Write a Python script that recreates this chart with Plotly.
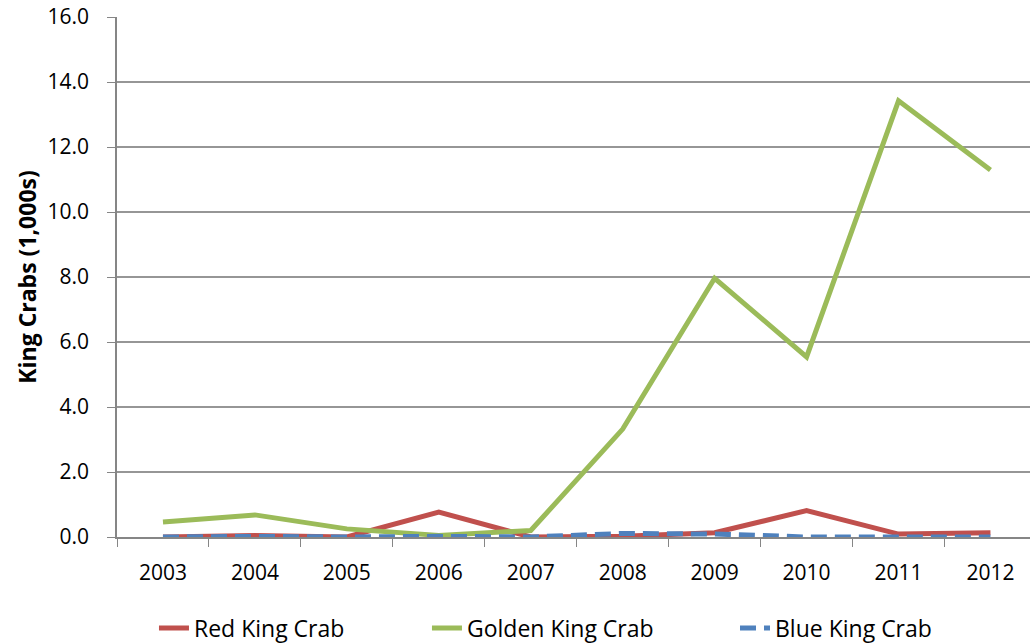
import plotly.graph_objects as go

years = ["2003", "2004", "2005", "2006", "2007", "2008", "2009", "2010", "2011", "2012"]
red_king = [0.0, 0.05, 0.0, 0.77, 0.0, 0.02, 0.13, 0.81, 0.09, 0.13]
golden_king = [0.46, 0.68, 0.25, 0.05, 0.2, 3.32, 7.96, 5.54, 13.42, 11.29]
blue_king = [0.0, 0.02, 0.0, 0.02, 0.0, 0.11, 0.09, 0.0, 0.0, 0.0]
y_ticks = [0, 2, 4, 6, 8, 10, 12, 14, 16]

FONT = "Open Sans"
FS = 21
LFS = 23

fig = go.Figure()
fig.add_trace(go.Scatter(x=years, y=red_king, name="Red King Crab", mode="lines",
                         line=dict(color="#C0504D", width=5), legend="legend"))
fig.add_trace(go.Scatter(x=years, y=golden_king, name="Golden King Crab", mode="lines",
                         line=dict(color="#9BBB59", width=5), legend="legend2"))
fig.add_trace(go.Scatter(x=years, y=blue_king, name="Blue King Crab", mode="lines",
                         line=dict(color="#4F81BD", width=5, dash="16px,8px"), legend="legend3"))

leg_common = dict(orientation="h", xanchor="left", y=-0.175, yanchor="middle",
                  font=dict(family=FONT, size=LFS), bgcolor="rgba(0,0,0,0)")

fig.update_layout(
    width=1030, height=643,
    margin=dict(l=117, r=0, t=17, b=106, autoexpand=False),
    paper_bgcolor="white", plot_bgcolor="white",
    font=dict(family=FONT, size=FS, color="black"),
    showlegend=True,
    legend=dict(x=0.0405, **leg_common),
    legend2=dict(x=0.3395, **leg_common),
    legend3=dict(x=0.6769, **leg_common),
    xaxis=dict(
        type="category", range=[-0.5, 9.43], automargin=False,
        showline=True, linecolor="#868686", linewidth=1.5,
        ticks="outside", ticklen=8, tickcolor="#868686", tickson="boundaries",
        showgrid=False, tickfont=dict(family=FONT, size=FS), ticklabelstandoff=16,
    ),
    yaxis=dict(
        range=[0, 16], tickvals=y_ticks, tickformat=".1f", automargin=False,
        showline=True, linecolor="#868686", linewidth=1.5,
        ticks="outside", ticklen=8, tickcolor="#868686",
        showgrid=True, gridcolor="#969696", gridwidth=1.5,
        zeroline=False, tickfont=dict(family=FONT, size=FS), ticklabelstandoff=14,
        ticklabeloverflow="allow",
        title=dict(text="<b>King Crabs (1,000s)</b>", font=dict(family=FONT, size=23), standoff=4),
    ),
)

fig.write_html("out.html", config={"displayModeBar": False},
               post_script="document.body.style.margin='0px';")
